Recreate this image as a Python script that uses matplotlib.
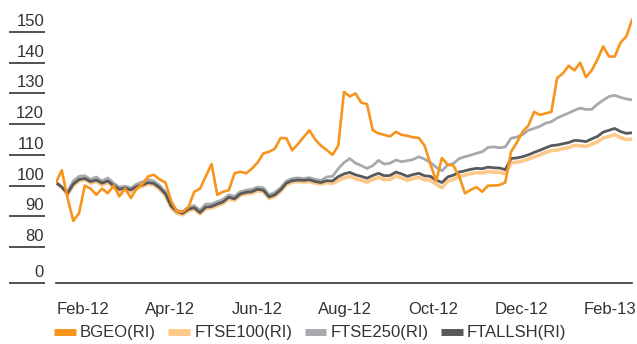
import matplotlib.pyplot as plt
import matplotlib.dates as mdates
import matplotlib.transforms as mtransforms
from matplotlib.lines import Line2D
import pandas as pd

# rebased total return indices, one value every 4 days
dates = pd.date_range("2012-01-13", periods=101, freq="4D")

bgeo = [
    101, 105, 96, 88.5, 91, 100, 99, 97, 99, 97.5,
    100, 96.5, 99, 96, 99, 100.5, 103, 103.5, 102, 101,
    95, 91.5, 91.5, 93, 98, 99, 103, 107, 97, 98,
    98.5, 104, 104.5, 104, 105.5, 107.5, 110.5, 111, 112, 115.5,
    115.4, 111.5, 113.5, 115.8, 118, 115, 113, 111.6, 110, 113,
    130.5, 129, 130, 127, 126.5, 118, 117, 116.5, 116, 117.5,
    116.5, 116.2, 115.7, 115.5, 113, 107, 101.5, 109, 106.8, 106.5,
    103, 97.5, 98.6, 99.5, 98, 100, 100, 100.2, 101, 111,
    114, 117.5, 119.5, 124, 123, 123.5, 124, 135, 136.5, 139,
    137.5, 140, 135.3, 137.5, 141, 145.3, 142, 142, 146.5, 148.5,
    153.9,
]

ftse250 = [
    101, 99.5, 98, 101.5, 103, 103.2, 102, 102.8, 101.5, 102.5,
    100.8, 99.5, 99.8, 99.2, 100.5, 101.2, 102, 101.5, 100, 98,
    94, 92, 91.5, 93, 93.5, 92, 94, 94, 94.8, 95.5,
    97, 96.5, 98, 98.5, 98.8, 99.5, 99.3, 97, 97.8, 99.3,
    101.5, 102.3, 102.5, 102.3, 102.6, 102, 101.7, 102.8, 103, 105.5,
    107.5, 108.8, 107.3, 106.5, 105.6, 106.5, 108.2, 107, 107.3, 108.3,
    107.8, 108.1, 108.5, 109.4, 108.6, 107.5, 106, 104.8, 106.7, 107.2,
    108.8, 109.4, 109.9, 110.5, 111, 112.4, 112.6, 112.3, 112.6, 115.4,
    115.8, 116.6, 118, 118.6, 119.3, 120.3, 120.8, 122, 122.8, 123.6,
    124.5, 125.2, 124.8, 124.8, 126.5, 127.8, 129, 129.4, 128.7, 128.2,
    127.9,
]

ftallsh = [
    101, 99.5, 97.5, 100.5, 102, 102.3, 101.3, 101.8, 100.8, 101.5,
    100, 98.8, 99.2, 98.6, 99.7, 100.2, 101, 100.7, 99.3, 97.3,
    93.3, 91.5, 91, 92.3, 92.8, 91.2, 93, 93.2, 94, 94.7,
    96.2, 95.7, 97.3, 97.8, 98, 98.8, 98.5, 96.3, 97, 98.6,
    100.8, 101.6, 101.8, 101.7, 101.9, 101.3, 101, 101.6, 101.5, 102.9,
    103.8, 104.3, 103.5, 103, 102.4, 103.3, 104, 103.2, 103.3, 104.4,
    103.8, 103, 103.6, 104, 103.2, 103, 101.8, 101, 102.8, 103.4,
    104.4, 104.8, 105.3, 105.6, 105.5, 106, 105.8, 105.7, 105.2, 108.8,
    109, 109.4, 110, 110.8, 111.5, 112.3, 113, 113.2, 113.6, 114,
    114.7, 114.6, 114.3, 115.2, 116, 117.4, 118, 118.6, 117.6, 117,
    117.2,
]

ftse100 = [
    101, 99.5, 97, 100, 101.5, 102, 100.8, 101.3, 100.2, 101,
    99.5, 98.3, 98.7, 98.1, 99.2, 99.7, 100.5, 100.2, 98.8, 96.8,
    92.8, 91, 90.5, 91.8, 92.3, 90.8, 92.5, 92.7, 93.5, 94.2,
    95.7, 95.2, 96.8, 97.3, 97.5, 98.3, 98, 95.8, 96.5, 98.1,
    100.3, 101.1, 101.3, 101.2, 101.3, 100.8, 100.5, 101, 100.7, 101.6,
    102.5, 103, 102.2, 101.7, 101.1, 102, 102.7, 101.9, 102, 103.1,
    102.5, 101.7, 102.3, 102.7, 101.9, 101.7, 100.4, 99.3, 101.4, 102,
    103, 103.4, 103.9, 104.2, 104.1, 104.6, 104.4, 104.3, 103.9, 107.4,
    107.6, 108, 108.6, 109.3, 110, 110.8, 111.4, 111.6, 112, 112.4,
    113.1, 113, 112.7, 113.5, 114.2, 115.5, 116, 116.6, 115.6, 115,
    115.1,
]

names = ["BGEO(RI)", "FTSE100(RI)", "FTSE250(RI)", "FTALLSH(RI)"]
colors = ["#F7941D", "#FDC98A", "#A7A9AC", "#58595B"]

ytick_values = [80, 90, 100, 110, 120, 130, 140, 150]
zero_pos = 68.3  # the axis is broken below 80, "0" sits here
xtick_dates = pd.to_datetime(["2012-02-01", "2012-04-01", "2012-06-01", "2012-08-01",
                              "2012-10-01", "2012-12-01", "2013-02-01"])

text_color = "#333333"
plt.rcParams["font.family"] = ["Liberation Sans", "DejaVu Sans"]

fig = plt.figure(figsize=(6.37, 3.44), dpi=100)
ax = fig.add_axes([56 / 637, 61 / 344, 576 / 637, 283 / 344])

ax.plot(dates, ftse100, color=colors[1], lw=2.6, solid_joinstyle="round")
ax.plot(dates, ftse250, color=colors[2], lw=2.0, solid_joinstyle="round")
ax.plot(dates, ftallsh, color=colors[3], lw=2.0, solid_joinstyle="round")
ax.plot(dates, bgeo, color=colors[0], lw=1.9, solid_joinstyle="round")

ax.set_xlim(dates[0], dates[-1])
ax.set_ylim(zero_pos, 160.4)

# y "ruler": short lines under each label, left of the plot
blend = mtransforms.blended_transform_factory(fig.transFigure, ax.transData)
label_tf = mtransforms.offset_copy(blend, fig=fig, y=6, units="dots")
for v in [0] + ytick_values:
    pos = zero_pos if v == 0 else v
    ax.plot([9 / 637, 45 / 637], [pos, pos], transform=blend, clip_on=False,
            color=text_color, lw=1.2, solid_capstyle="butt")
    ax.text(44 / 637, pos, str(v), transform=label_tf, ha="right", va="baseline",
            fontsize=12, color=text_color)
ax.set_yticks([])

ax.set_xticks(xtick_dates)
ax.xaxis.set_major_formatter(mdates.DateFormatter("%b-%y"))
ax.tick_params(axis="x", length=0, pad=14, labelsize=12, labelcolor=text_color)

for side in ["top", "right", "left"]:
    ax.spines[side].set_visible(False)
ax.spines["bottom"].set_color(text_color)
ax.spines["bottom"].set_linewidth(1.2)

handles = [Line2D([], [], color=c, lw=5, solid_capstyle="butt") for c in colors]
fig.legend(handles, names, loc="center left", bbox_to_anchor=(54 / 637, 11 / 344),
           ncol=4, frameon=False, fontsize=12, handlelength=1.3, handletextpad=0.25,
           columnspacing=0.75, borderpad=0, borderaxespad=0, labelcolor=text_color)

fig.savefig("out.png", dpi=100)
